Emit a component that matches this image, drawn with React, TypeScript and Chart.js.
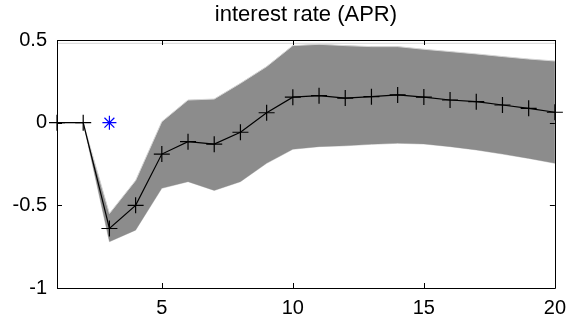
import React, { useEffect, useRef } from "react";
import { Chart, registerables } from "chart.js";

Chart.register(...registerables);

const titleText = "interest rate (APR)";
const periods = [1, 2, 3, 4, 5, 6, 7, 8, 9, 10, 11, 12, 13, 14, 15, 16, 17, 18, 19, 20];
const irf = [0, 0, -0.64, -0.5, -0.19, -0.115, -0.13, -0.058, 0.06, 0.154, 0.163, 0.149, 0.157, 0.168, 0.155, 0.137, 0.127, 0.107, 0.087, 0.063];
const upperBand = [0, 0, -0.55, -0.35, 0.006, 0.137, 0.143, 0.238, 0.339, 0.466, 0.474, 0.466, 0.46, 0.46, 0.444, 0.43, 0.416, 0.4, 0.385, 0.373];
const lowerBand = [0, 0, -0.72, -0.65, -0.397, -0.357, -0.41, -0.357, -0.246, -0.161, -0.145, -0.14, -0.131, -0.125, -0.129, -0.145, -0.165, -0.19, -0.216, -0.246];
const refLineX = [1, 20];
const refLineY = [0.48, 0.48];
const shockX = [3];
const shockY = [0];
const xTicks = [5, 10, 15, 20];
const yTicks = [-1, -0.5, 0, 0.5];

const FONT = '"Liberation Sans", Arial, sans-serif';

const boxPlugin = {
  id: "boxPlugin",
  afterDraw(chart: any) {
    const { ctx, chartArea } = chart;
    const { left, right, top, bottom } = chartArea;
    const xs = chart.scales.x;
    const ys = chart.scales.y;
    ctx.save();
    ctx.strokeStyle = "#000";
    ctx.lineWidth = 1;
    ctx.beginPath();
    ctx.rect(Math.round(left) + 0.5, Math.round(top) + 0.5, Math.round(right - left), Math.round(bottom - top));
    ctx.stroke();
    const tl = 5;
    ctx.beginPath();
    xTicks.forEach((v) => {
      const px = Math.round(xs.getPixelForValue(v)) + 0.5;
      ctx.moveTo(px, bottom);
      ctx.lineTo(px, bottom - tl);
      ctx.moveTo(px, top);
      ctx.lineTo(px, top + tl);
    });
    yTicks.forEach((v) => {
      const py = Math.round(ys.getPixelForValue(v)) + 0.5;
      ctx.moveTo(left, py);
      ctx.lineTo(left + tl, py);
      ctx.moveTo(right, py);
      ctx.lineTo(right - tl, py);
    });
    ctx.stroke();
    ctx.fillStyle = "#000";
    ctx.font = `22px ${FONT}`;
    ctx.textAlign = "center";
    ctx.textBaseline = "alphabetic";
    ctx.fillText(titleText, (left + right) / 2, 21);
    ctx.restore();
  },
};

export default function App() {
  const ref = useRef<HTMLCanvasElement | null>(null);
  useEffect(() => {
    document.body.style.margin = "0";
    const canvas = ref.current;
    if (!canvas) return;
    const chart = new Chart(canvas, {
      type: "line",
      data: {
        datasets: [
          {
            label: "lower",
            data: periods.map((x, i) => ({ x, y: lowerBand[i] })),
            borderColor: "#d4d4d4",
            borderWidth: 1,
            pointRadius: 0,
            fill: false,
            tension: 0,
            order: 3,
          },
          {
            label: "upper",
            data: periods.map((x, i) => ({ x, y: upperBand[i] })),
            borderColor: "#d4d4d4",
            borderWidth: 1,
            backgroundColor: "#8c8c8c",
            pointRadius: 0,
            fill: "-1",
            tension: 0,
            order: 2,
          },
          {
            label: "ref",
            data: refLineX.map((x, i) => ({ x, y: refLineY[i] })),
            borderColor: "#d4d4d4",
            borderWidth: 1,
            pointRadius: 0,
            fill: false,
            order: 4,
          },
          {
            label: "irf",
            data: periods.map((x, i) => ({ x, y: irf[i] })),
            borderColor: "#000",
            borderWidth: 1.2,
            pointStyle: "cross",
            pointRadius: 8,
            pointBorderWidth: 1.2,
            pointBorderColor: "#000",
            fill: false,
            tension: 0,
            clip: false as any,
            order: 1,
          },
          {
            label: "shock",
            data: shockX.map((x, i) => ({ x, y: shockY[i] })),
            showLine: false,
            pointStyle: "star",
            pointRadius: 7,
            pointBorderWidth: 1.2,
            pointBorderColor: "#0000ff",
            borderColor: "#0000ff",
            fill: false,
            order: 0,
          },
        ],
      },
      options: {
        animation: false,
        responsive: false,
        devicePixelRatio: 1,
        events: [],
        layout: { padding: { top: 40, right: 16, left: 0, bottom: 0 } },
        plugins: {
          legend: { display: false },
          title: { display: false },
          tooltip: { enabled: false },
        },
        scales: {
          x: {
            type: "linear",
            min: 1,
            max: 20,
            grid: { display: false, drawTicks: false },
            border: { display: false },
            afterBuildTicks: (s: any) => {
              s.ticks = xTicks.map((v) => ({ value: v }));
            },
            afterFit: (s: any) => {
              s.height = 39;
            },
            ticks: {
              padding: 8,
              color: "#000",
              font: { family: FONT, size: 20 },
              maxRotation: 0,
              callback: (v: any) => String(v),
            },
          },
          y: {
            type: "linear",
            min: -1,
            max: 0.5,
            grid: { display: false, drawTicks: false },
            border: { display: false },
            afterBuildTicks: (s: any) => {
              s.ticks = yTicks.map((v) => ({ value: v }));
            },
            afterFit: (s: any) => {
              s.width = 57;
            },
            ticks: {
              padding: 10,
              color: "#000",
              font: { family: FONT, size: 20 },
              callback: (v: any) => String(v),
            },
          },
        },
      },
      plugins: [boxPlugin],
    });
    return () => chart.destroy();
  }, []);
  return (
    <div style={{ width: 574, height: 327 }}>
      <canvas ref={ref} width={574} height={327} style={{ display: "block" }} />
    </div>
  );
}
